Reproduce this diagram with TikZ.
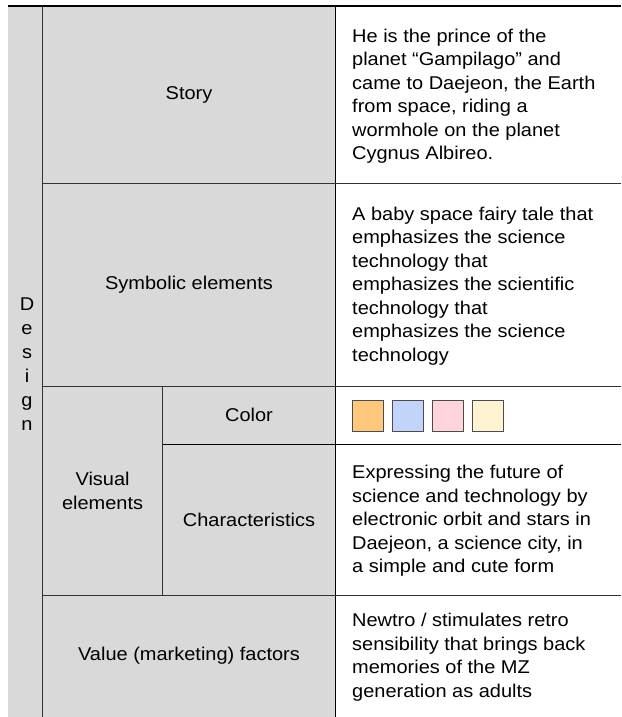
\documentclass[tikz,border=0pt]{standalone}
\usepackage{fontspec}
\setmainfont{Liberation Sans}[FakeStretch=1.08]
\definecolor{cellgray}{RGB}{217,217,217}
\definecolor{swatchA}{RGB}{255,200,125}
\definecolor{swatchB}{RGB}{195,212,250}
\definecolor{swatchC}{RGB}{255,212,220}
\definecolor{swatchD}{RGB}{255,244,210}
\begin{document}
\begin{tikzpicture}[x=1pt,y=-1pt,every node/.style={inner sep=0pt,font=\fontsize{18.5}{23.5}\selectfont},rule/.style={draw=black!80,line width=1pt}]
\pgfmathsetmacro\colA{42.5};
\pgfmathsetmacro\colB{162.7};
\pgfmathsetmacro\colC{335.7};
\useasboundingbox (0,0) rectangle (621,717);
\fill[cellgray] (8,6) rectangle (\colC,717);
\draw[rule, line width=1.6pt] (\colA,6) -- (\colA,717);
\draw[rule, draw=black] (\colC,6) -- (\colC,717);
\draw[rule] (\colA,183.7) -- (621,183.7);
\draw[rule] (\colA,386.7) -- (621,386.7);
\draw[rule, draw=black] (\colB,444.3) -- (621,444.3);
\draw[rule] (\colA,595.3) -- (621,595.3);
\draw[rule] (\colB,386.7) -- (\colB,595.3);
\draw[line width=2.2pt] (8,6) -- (621,6);
\node[align=center, font=\fontsize{18.5}{24}\selectfont] (design) at (27,364) {D\\e\\s\\i\\g\\n};
\node (story) at (189,95) {Story};
\node (symbolic) at (189,285) {Symbolic elements};
\node (color) at (249,415) {Color};
\node[align=center] (visual) at (102.6,491) {Visual\\elements};
\node (character) at (249,520) {Characteristics};
\node (value) at (189,656) {Value (marketing) factors};
\node[anchor=west, align=left] (storytext) at (352,96) {He is the prince of the\\planet “Gampilago” and\\came to Daejeon, the Earth\\from space, riding a\\wormhole on the planet\\Cygnus Albireo.};
\node[anchor=west, align=left] (symbolictext) at (352,286) {A baby space fairy tale that\\emphasizes the science\\technology that\\emphasizes the scientific\\technology that\\emphasizes the science\\technology};
\foreach \c [count=\i from 0] in {swatchA,swatchB,swatchC,swatchD} \draw[fill=\c, draw=black!70, line width=1.2pt] (352.7+40*\i,400.7) rectangle ++(30.6,30.6);
\node[anchor=west, align=left] (charactertext) at (352,521) {Expressing the future of\\science and technology by\\electronic orbit and stars in\\Daejeon, a science city, in\\a simple and cute form};
\node[anchor=west, align=left] (valuetext) at (352,657) {Newtro / stimulates retro\\sensibility that brings back\\memories of the MZ\\generation as adults};
\end{tikzpicture}
\end{document}
